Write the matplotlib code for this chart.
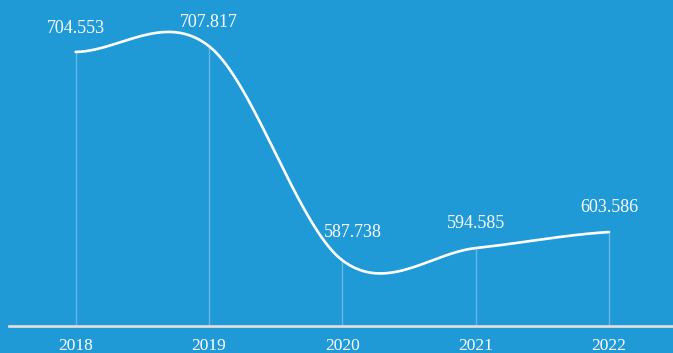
import numpy as np
import matplotlib.pyplot as plt

years = ['2018', '2019', '2020', '2021', '2022']
values = [704.553, 707.817, 587.738, 594.585, 603.586]

bg = '#209ad7'
plt.rcParams['font.family'] = ['Liberation Serif', 'DejaVu Serif']

fig = plt.figure(figsize=(6.73, 3.53), dpi=100, facecolor=bg)
ax = fig.add_axes([9 / 673, 27 / 353, 1 - 9 / 673, 326 / 353])
ax.set_facecolor(bg)
ax.set_xlim(-0.5, 4.48)
ax.set_ylim(550.9, 733.7)

x = np.arange(len(values))
y = np.array(values, dtype=float)

# catmull-rom style smoothing (cubic hermite)
m = np.zeros_like(y)
m[1:-1] = (y[2:] - y[:-2]) / 2
m[0] = (y[1] - y[0]) / 2
m[-1] = (y[-1] - y[-2]) / 2

cx, cy = [], []
t = np.linspace(0, 1, 80)
for i in range(len(y) - 1):
    h00 = 2 * t ** 3 - 3 * t ** 2 + 1
    h10 = t ** 3 - 2 * t ** 2 + t
    h01 = -2 * t ** 3 + 3 * t ** 2
    h11 = t ** 3 - t ** 2
    cx.append(x[i] + t)
    cy.append(h00 * y[i] + h10 * m[i] + h01 * y[i + 1] + h11 * m[i + 1])
cx = np.concatenate(cx)
cy = np.concatenate(cy)

# drop lines
for xi, yi in zip(x, y):
    ax.plot([xi, xi], [550.9, yi], color='white', alpha=0.3, lw=1)

ax.plot(cx, cy, color='white', lw=1.9, solid_capstyle='round')

# value labels
offsets = [(0, 15), (0, 15), (10, 19), (0, 16), (0, 16)]
for xi, yi, (dx, dy) in zip(x, y, offsets):
    ax.annotate(f'{yi:.3f}', (xi, yi), xytext=(dx * 0.72, dy * 0.72), textcoords='offset points',
                ha='center', va='bottom', color='white', fontsize=13)

for s in ['top', 'right', 'left']:
    ax.spines[s].set_visible(False)
ax.spines['bottom'].set_color('#dcdcdc')
ax.spines['bottom'].set_linewidth(2)
ax.set_yticks([])
ax.set_xticks(x)
ax.set_xticklabels(years, color='white', fontsize=12.5)
ax.tick_params(axis='x', length=0, pad=9)

fig.savefig('out.png', dpi=100, facecolor=bg)
